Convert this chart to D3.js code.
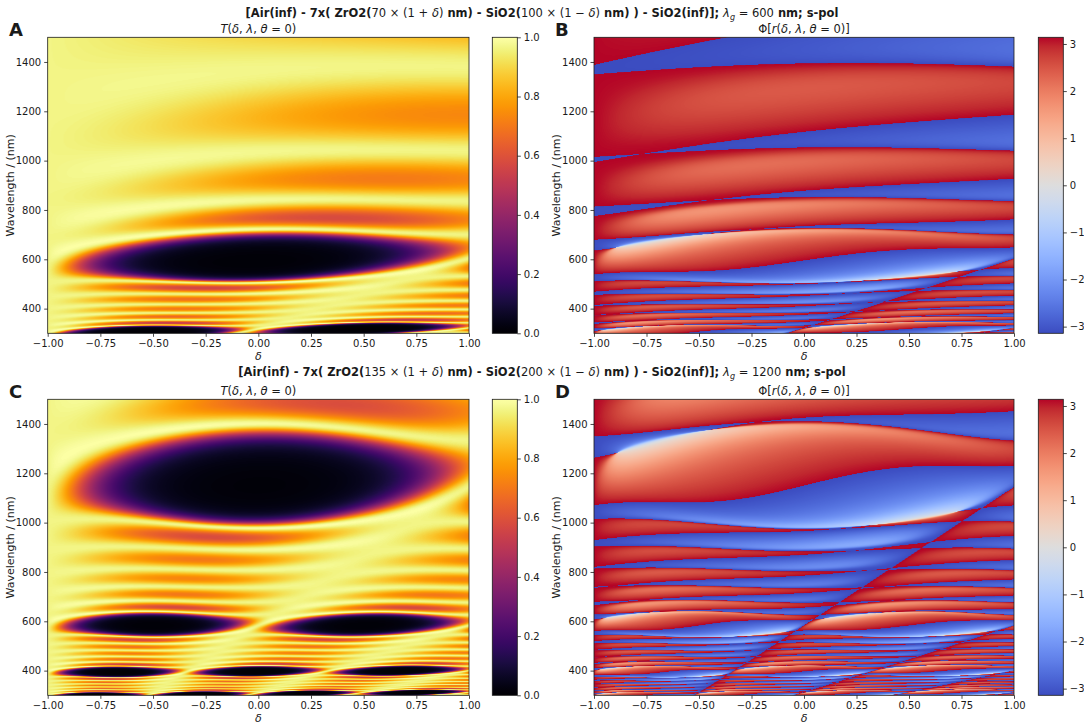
<!DOCTYPE html>
<html><head><meta charset="utf-8">
<script src="https://cdn.jsdelivr.net/npm/d3@7"></script>
<style>body{margin:0;background:#fff}text{font-family:"DejaVu Sans",sans-serif;white-space:pre}</style>
</head><body>
<svg id="fig" width="1084" height="724" xmlns="http://www.w3.org/2000/svg"></svg>
<script>
// ---------------- data ----------------
const deltaTicks = [-1, -0.75, -0.5, -0.25, 0, 0.25, 0.5, 0.75, 1];
const wavelengthTicks = [400, 600, 800, 1000, 1200, 1400];
const transmissionTicks = [0, 0.2, 0.4, 0.6, 0.8, 1.0];
const phaseTicks = [-3, -2, -1, 0, 1, 2, 3];
const deltaDomain = [-1, 1];
const wavelengthDomain = [300, 1500];
const periodCounts = [7, 7];
const zro2Thickness = [70, 135];     // nm
const sio2Thickness = [100, 200];    // nm
const guideWavelength = [600, 1200]; // nm
const panelLetters = ["A", "B", "C", "D"];
// Sellmeier coefficients (lambda in micrometres)
const zro2SellB = [1.347091, 2.117788, 9.452943];
const zro2SellC = [0.062543, 0.166739, 24.320570];
const sio2SellB = [0.6961663, 0.4079426, 0.8974794];
const sio2SellC = [0.0684043, 0.1162414, 9.896161];
// coolwarm colormap control colours
const coolwarmColors = [[59,76,192],[68,90,204],[77,104,215],[87,117,225],[98,130,234],[108,142,241],[119,154,247],[130,165,251],[141,176,254],[152,185,255],[163,194,255],[174,201,253],[184,208,249],[194,213,244],[204,217,238],[213,219,230],[221,221,221],[229,216,209],[236,211,197],[241,204,185],[245,196,173],[247,187,160],[247,177,148],[247,166,135],[244,154,123],[241,141,111],[236,127,99],[229,112,88],[222,96,77],[213,80,66],[203,62,56],[192,40,47],[180,4,38]];

const PHASE_SIGN = -1;
const NX = 422, NY = 592;

// ---------------- layout ----------------
const svg = d3.select("#fig");
const colX = [47.7, 594], colW = [421.3, 420];
const rowY = [37.3, 399.3], rowH = 296;
const cbX = [492.3, 1038.3], cbW = 25;
const ink = "#1a1a1a";

function sellmeier(B, C, lamNm) {
  const l2 = (lamNm / 1000) ** 2;
  let s = 1;
  for (let i = 0; i < B.length; i++) s += B[i] * l2 / (l2 - C[i] * C[i]);
  return Math.sqrt(s);
}

const deltaGrid = d3.range(NX).map(i => deltaDomain[0] + (i + 0.5) * (deltaDomain[1] - deltaDomain[0]) / NX);
const lambdaGrid = d3.range(NY).map(j => wavelengthDomain[1] - (j + 0.5) * (wavelengthDomain[1] - wavelengthDomain[0]) / NY);

function computeStack(k) {
  const T = new Float32Array(NX * NY), P = new Float32Array(NX * NY);
  const d1 = zro2Thickness[k], d2 = sio2Thickness[k], N = periodCounts[k];
  for (let j = 0; j < NY; j++) {
    const lam = lambdaGrid[j];
    const n1 = sellmeier(zro2SellB, zro2SellC, lam);
    const n2 = sellmeier(sio2SellB, sio2SellC, lam);
    const ns = n2;
    const k0 = 2 * Math.PI / lam;
    for (let i = 0; i < NX; i++) {
      const dl = deltaGrid[i];
      const p1 = k0 * n1 * d1 * (1 + dl), p2 = k0 * n2 * d2 * (1 - dl);
      const c1 = Math.cos(p1), s1 = Math.sin(p1), c2 = Math.cos(p2), s2 = Math.sin(p2);
      const a = c1 * c2 - s1 * s2 * n2 / n1;
      const b = c1 * s2 / n2 + s1 * c2 / n1;
      const c = n1 * s1 * c2 + n2 * s2 * c1;
      const d = c1 * c2 - n1 * s1 * s2 / n2;
      let A = 1, Bq = 0, Cq = 0, D = 1;
      for (let m = 0; m < N; m++) {
        const nA = A * a - Bq * c, nB = A * b + Bq * d, nC = Cq * a + D * c, nD = -Cq * b + D * d;
        A = nA; Bq = nB; Cq = nC; D = nD;
      }
      const reNum = A - D * ns, imNum = Bq * ns - Cq;
      const reDen = A + D * ns, imDen = Bq * ns + Cq;
      const den2 = reDen * reDen + imDen * imDen;
      const idx = j * NX + i;
      T[idx] = 4 * ns / den2;
      const re = (reNum * reDen + imNum * imDen), im = (imNum * reDen - reNum * imDen);
      P[idx] = Math.atan2(PHASE_SIGN * im, re);
    }
  }
  return { T, P };
}

// colour maps
const coolwarmScale = d3.scaleLinear()
  .domain(coolwarmColors.map((_, i) => i / (coolwarmColors.length - 1)))
  .range(coolwarmColors.map(c => d3.rgb(c[0], c[1], c[2])))
  .interpolate(d3.interpolateRgb);
const infernoFn = t => d3.interpolateInferno(t);
const coolwarmFn = t => coolwarmScale(t);

function lut(fn) {
  const L = [];
  for (let i = 0; i < 512; i++) { const c = d3.rgb(fn(i / 511)); L.push([c.r, c.g, c.b]); }
  return L;
}
const infernoLUT = lut(infernoFn), coolwarmLUT = lut(coolwarmFn);

function drawHeat(g, values, norm, L, x, y) {
  const cv = document.createElement("canvas");
  cv.width = NX; cv.height = NY;
  const ctx = cv.getContext("2d");
  const img = ctx.createImageData(NX, NY);
  for (let q = 0; q < values.length; q++) {
    let t = norm(values[q]); t = Math.max(0, Math.min(1, t));
    const c = L[Math.round(t * 511)];
    img.data[4 * q] = c[0]; img.data[4 * q + 1] = c[1]; img.data[4 * q + 2] = c[2]; img.data[4 * q + 3] = 255;
  }
  ctx.putImageData(img, 0, 0);
  g.append("image")
    .attr("x", x(deltaDomain[0])).attr("y", y(wavelengthDomain[1]))
    .attr("width", x(deltaDomain[1]) - x(deltaDomain[0]))
    .attr("height", y(wavelengthDomain[0]) - y(wavelengthDomain[1]))
    .attr("preserveAspectRatio", "none")
    .attr("href", cv.toDataURL());
}

const fmtMinus = s => s.replace("-", "\u2212");

function styleAxis(ax) {
  ax.select(".domain").remove();
  ax.selectAll(".tick line").attr("stroke", ink).attr("stroke-width", 0.8);
  ax.selectAll(".tick text").attr("fill", ink).attr("font-size", 10).attr("font-family", "DejaVu Sans");
}

function addText(parent, x, y, segs, size, anchor) {
  const t = parent.append("text").attr("x", x).attr("y", y).attr("text-anchor", anchor || "middle")
    .attr("font-size", size).attr("fill", ink);
  segs.forEach(s => {
    const sp = t.append("tspan").text(s[0]);
    if (s[1] === "b") sp.attr("font-weight", "bold");
    if (s[1] === "i") sp.attr("font-style", "italic");
    if (s[1] === "sub") sp.attr("font-size", size * 0.7).attr("dy", 3).attr("font-style", "italic");
    if (s[1] === "unsub") sp.attr("dy", -3);
  });
  return t;
}

const defs = svg.append("defs");

function colorbar(g, x0, y0, fn, domain, ticks, fmt, id) {
  const grad = defs.append("linearGradient").attr("id", id).attr("x1", 0).attr("x2", 0).attr("y1", 1).attr("y2", 0);
  d3.range(65).forEach(i => grad.append("stop").attr("offset", i / 64).attr("stop-color", fn(i / 64)));
  g.append("rect").attr("x", x0).attr("y", y0).attr("width", cbW).attr("height", rowH).attr("fill", `url(#${id})`);
  g.append("rect").attr("x", x0).attr("y", y0).attr("width", cbW).attr("height", rowH)
    .attr("fill", "none").attr("stroke", ink).attr("stroke-width", 0.8);
  const s = d3.scaleLinear().domain(domain).range([y0 + rowH, y0]);
  const ax = g.append("g").attr("transform", `translate(${x0 + cbW},0)`)
    .call(d3.axisRight(s).tickValues(ticks).tickFormat(fmt).tickSizeOuter(0).tickSize(3.5).tickPadding(3));
  styleAxis(ax);
}

const results = [computeStack(0), computeStack(1)];

for (let row = 0; row < 2; row++) {
  const st = row;
  // suptitle
  const titleY = row === 0 ? 17 : 376;
  addText(svg, 542, titleY, [
    ["[Air(inf) - 7x( ZrO2(", "b"], [`${zro2Thickness[st]} × (1 + `, "n"], ["δ", "i"], [")", "n"],
    [" nm) - SiO2(", "b"], [`${sio2Thickness[st]} × (1 − `, "n"], ["δ", "i"], [")", "n"],
    [" nm) ) - SiO2(inf)]; ", "b"], ["λ", "i"], ["g", "sub"], [` = ${guideWavelength[st]}`, "unsub"], [" nm; s-pol", "b"]
  ], 11.5);

  for (let col = 0; col < 2; col++) {
    const g = svg.append("g");
    const x = d3.scaleLinear().domain(deltaDomain).range([colX[col], colX[col] + colW[col]]);
    const y = d3.scaleLinear().domain(wavelengthDomain).range([rowY[row] + rowH, rowY[row]]);
    if (col === 0) {
      drawHeat(g, results[st].T, v => v, infernoLUT, x, y);
    } else {
      drawHeat(g, results[st].P, v => (v + Math.PI) / (2 * Math.PI), coolwarmLUT, x, y);
    }
    g.append("rect").attr("x", colX[col]).attr("y", rowY[row]).attr("width", colW[col]).attr("height", rowH)
      .attr("fill", "none").attr("stroke", ink).attr("stroke-width", 0.8);
    const xa = g.append("g").attr("transform", `translate(0,${rowY[row] + rowH})`)
      .call(d3.axisBottom(x).tickValues(deltaTicks).tickFormat(v => fmtMinus(d3.format(".2f")(v))).tickSizeOuter(0).tickSize(3.5).tickPadding(3));
    styleAxis(xa);
    const ya = g.append("g").attr("transform", `translate(${colX[col]},0)`)
      .call(d3.axisLeft(y).tickValues(wavelengthTicks).tickFormat(d3.format("d")).tickSizeOuter(0).tickSize(3.5).tickPadding(3));
    styleAxis(ya);
    // axis labels
    addText(g, colX[col] + colW[col] / 2, rowY[row] + rowH + 26.5, [["δ", "i"]], 11);
    g.append("text").attr("transform", `translate(${colX[col] - 34},${rowY[row] + rowH / 2}) rotate(-90)`)
      .attr("text-anchor", "middle").attr("font-size", 11).attr("fill", ink).text("Wavelength / (nm)");
    // panel titles
    if (col === 0) {
      addText(g, colX[col] + colW[col] / 2, rowY[row] - 4, [["T", "i"], ["(", "n"], ["δ", "i"], [", ", "n"], ["λ", "i"], [", ", "n"], ["θ", "i"], [" = 0)", "n"]], 11.5);
    } else {
      addText(g, colX[col] + colW[col] / 2, rowY[row] - 4, [["Φ[", "n"], ["r", "i"], ["(", "n"], ["δ", "i"], [", ", "n"], ["λ", "i"], [", ", "n"], ["θ", "i"], [" = 0)]", "n"]], 11.5);
    }
    // panel letter
    g.append("text").attr("x", col === 0 ? 9 : 555).attr("y", rowY[row] - 1).attr("font-size", 18).attr("font-weight", "bold")
      .attr("fill", ink).text(panelLetters[row * 2 + col]);
    // colorbar
    if (col === 0) {
      colorbar(g, cbX[col], rowY[row], infernoFn, [0, 1], transmissionTicks, d3.format(".1f"), `cbT${row}`);
    } else {
      colorbar(g, cbX[col], rowY[row], coolwarmFn, [-Math.PI, Math.PI], phaseTicks, v => fmtMinus(String(v)), `cbP${row}`);
    }
  }
}
</script>
</body></html>
